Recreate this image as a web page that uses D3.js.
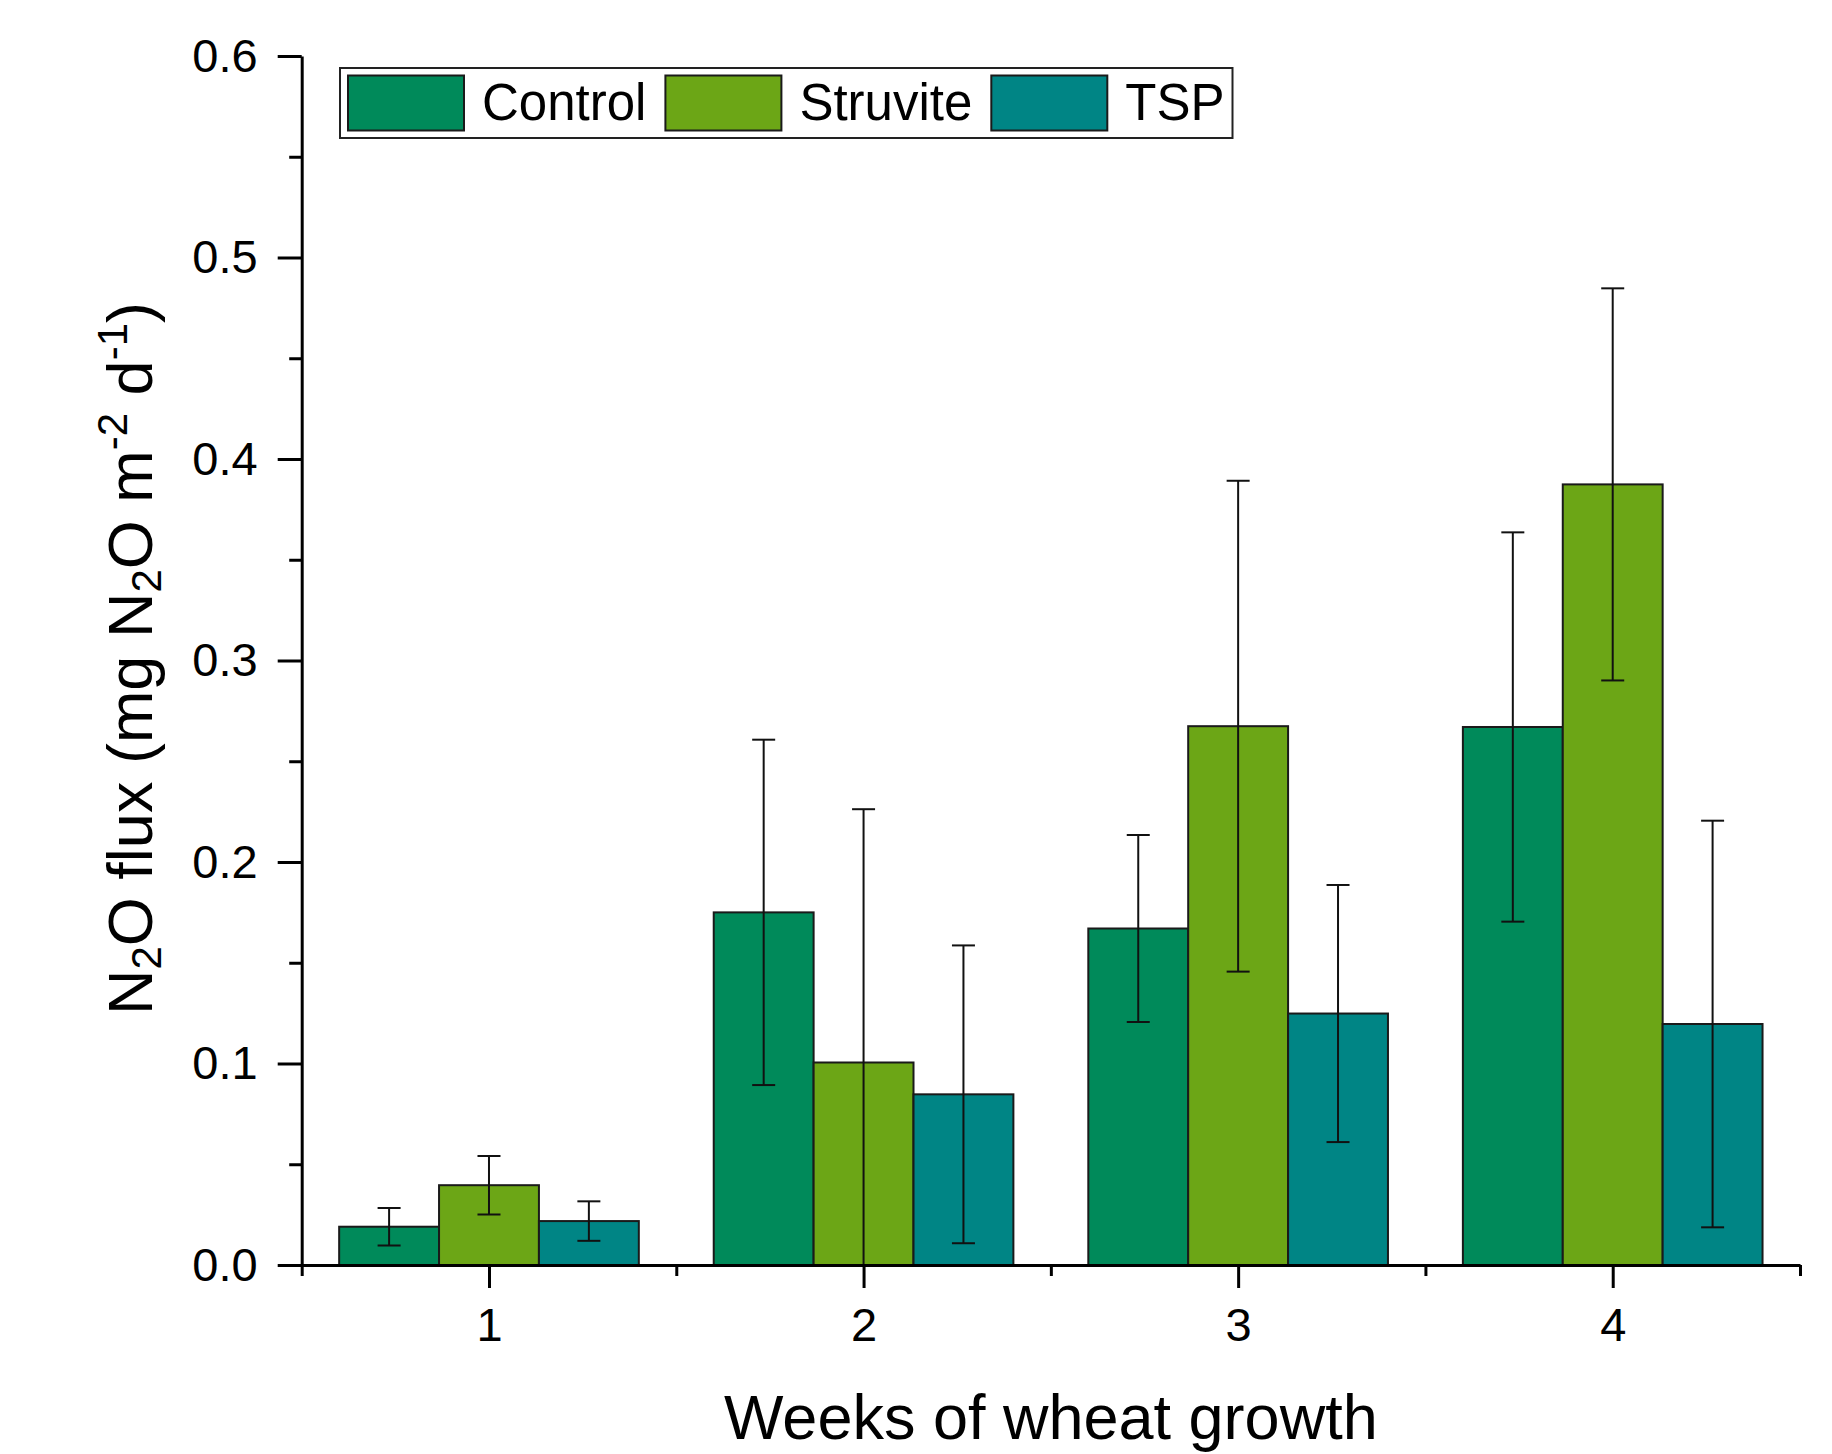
<!DOCTYPE html>
<html>
<head>
<meta charset="utf-8">
<script src="https://cdn.jsdelivr.net/npm/d3@7"></script>
<style>
  html, body { margin: 0; padding: 0; background: #ffffff; }
  svg { display: block; }
  text { font-family: "Liberation Sans", Arial, sans-serif; fill: #000; }
</style>
</head>
<body>
<svg id="chart" width="1832" height="1454"></svg>
<script>
// ---------- data ----------
const weeks = [1, 2, 3, 4];
const seriesNames = ["Control", "Struvite", "TSP"];
const seriesColors = ["#008A5A", "#6CA616", "#008585"];
const controlMean = [0.019, 0.175, 0.167, 0.267];
const controlErr  = [0.0093, 0.0857, 0.0464, 0.0966];
const struviteMean = [0.0396, 0.1005, 0.2674, 0.3874];
const struviteErr  = [0.0145, 0.1257, 0.1218, 0.0973];
const tspMean = [0.0218, 0.0847, 0.1248, 0.1196];
const tspErr  = [0.0098, 0.0739, 0.0638, 0.1009];
const yTicks = [0, 0.1, 0.2, 0.3, 0.4, 0.5, 0.6];
const yMinorTicks = [0.05, 0.15, 0.25, 0.35, 0.45, 0.55];
const xMinorTicks = [0.5, 1.5, 2.5, 3.5, 4.5];
const xTitle = "Weeks of wheat growth";

(function () {
const means = [controlMean, struviteMean, tspMean];
const errs = [controlErr, struviteErr, tspErr];

// ---------- layout ----------
const svg = d3.select("#chart");
const pLeft = 301.7, pRight = 1800, pTop = 56, pBottom = 1265;
const x = d3.scaleLinear().domain([0.5, 4.5]).range([pLeft, pRight]);
const y = d3.scaleLinear().domain([0, 0.6]).range([pBottom, pTop]);
const groupW = 0.8, barW = groupW / seriesNames.length;

const rows = [];
seriesNames.forEach((name, si) => {
  weeks.forEach((w, wi) => {
    rows.push({ name, si, week: w, mean: means[si][wi], err: errs[si][wi] });
  });
});

// clip for plot area
svg.append("defs").append("clipPath").attr("id", "plotClip")
  .append("rect").attr("x", pLeft).attr("y", 0).attr("width", pRight - pLeft).attr("height", pBottom);

const plot = svg.append("g").attr("clip-path", "url(#plotClip)");
const bx = d => x(d.week - groupW / 2 + d.si * barW);
const bc = d => x(d.week - groupW / 2 + (d.si + 0.5) * barW);

// bars
plot.selectAll("rect.bar").data(rows).enter().append("rect")
  .attr("class", "bar")
  .attr("x", bx)
  .attr("width", d => x(d.week - groupW / 2 + (d.si + 1) * barW) - bx(d))
  .attr("y", d => y(d.mean))
  .attr("height", d => y(0) - y(d.mean))
  .attr("fill", d => seriesColors[d.si])
  .attr("stroke", "#1a1a1a")
  .attr("stroke-width", 2);

// error bars
const capHalf = 11.5;
const eb = plot.selectAll("g.err").data(rows).enter().append("g").attr("class", "err");
eb.append("line")
  .attr("x1", bc).attr("x2", bc)
  .attr("y1", d => y(d.mean + d.err))
  .attr("y2", d => y(d.mean - d.err))
  .attr("stroke", "#111").attr("stroke-width", 2);
eb.append("line")
  .attr("x1", d => bc(d) - capHalf).attr("x2", d => bc(d) + capHalf)
  .attr("y1", d => y(d.mean + d.err)).attr("y2", d => y(d.mean + d.err))
  .attr("stroke", "#111").attr("stroke-width", 2);
eb.filter(d => d.mean - d.err > 0).append("line")
  .attr("x1", d => bc(d) - capHalf).attr("x2", d => bc(d) + capHalf)
  .attr("y1", d => y(d.mean - d.err)).attr("y2", d => y(d.mean - d.err))
  .attr("stroke", "#111").attr("stroke-width", 2);

// ---------- axes ----------
const tickFont = 47;
const ff = "'Liberation Sans', Arial, sans-serif";
svg.append("g").attr("transform", `translate(${pLeft},0)`)
  .call(d3.axisLeft(y).tickValues(yMinorTicks).tickSize(12.5).tickFormat(""))
  .call(g => g.select(".domain").remove())
  .call(g => g.selectAll("line").attr("stroke", "#000").attr("stroke-width", 3));
svg.append("g").attr("transform", `translate(${pLeft},0)`)
  .call(d3.axisLeft(y).tickValues(yTicks).tickSize(24).tickSizeOuter(0).tickPadding(20).tickFormat(d3.format(".1f")))
  .call(g => g.select(".domain").attr("stroke", "#000").attr("stroke-width", 3))
  .call(g => g.selectAll("line").attr("stroke", "#000").attr("stroke-width", 3))
  .call(g => g.selectAll("text").attr("font-size", tickFont).attr("font-family", ff).attr("fill", "#000"));
svg.append("g").attr("transform", `translate(0,${pBottom})`)
  .call(d3.axisBottom(x).tickValues(xMinorTicks).tickSize(11).tickFormat(""))
  .call(g => g.select(".domain").remove())
  .call(g => g.selectAll("line").attr("stroke", "#000").attr("stroke-width", 3));
svg.append("g").attr("transform", `translate(0,${pBottom})`)
  .call(d3.axisBottom(x).tickValues(weeks).tickSize(23).tickSizeOuter(0).tickPadding(20).tickFormat(d3.format("d")))
  .call(g => g.select(".domain").attr("stroke", "#000").attr("stroke-width", 3))
  .call(g => g.selectAll("line").attr("stroke", "#000").attr("stroke-width", 3))
  .call(g => g.selectAll("text").attr("font-size", tickFont).attr("font-family", ff).attr("fill", "#000"));

// ---------- titles ----------
svg.append("text")
  .attr("x", (pLeft + pRight) / 2).attr("y", 1439)
  .attr("text-anchor", "middle").attr("font-size", 63)
  .text(xTitle);

const yt = svg.append("text")
  .attr("transform", `translate(152,${(pTop + pBottom) / 2 - 2}) rotate(-90)`)
  .attr("text-anchor", "middle").attr("font-size", 63);
const parts = [
  ["N", 0], ["2", -1], ["O flux (mg N", 0], ["2", -1], ["O m", 0], ["-2", 1], [" d", 0], ["-1", 1], [")", 0]
];
parts.forEach(([t, s]) => {
  const ts = yt.append("tspan").text(t);
  if (s === -1) ts.attr("font-size", 42).attr("baseline-shift", "-22%");
  if (s === 1) ts.attr("font-size", 42).attr("baseline-shift", "60%");
});

// ---------- legend ----------
const lg = svg.append("g");
const lgX = 340, lgY = 68, lgH = 70;
const swW = 116, swH = 55, padL = 8, gapT = 18, gapN = 19;
const legendFont = 51;
let cx = lgX + padL;
seriesNames.forEach((name, i) => {
  lg.append("rect").attr("x", cx).attr("y", lgY + 7.5).attr("width", swW).attr("height", swH)
    .attr("fill", seriesColors[i]).attr("stroke", "#1a1a1a").attr("stroke-width", 2);
  cx += swW + gapT;
  const t = lg.append("text").attr("x", cx).attr("y", lgY + 52).attr("font-size", legendFont).text(name);
  cx += t.node().getComputedTextLength() + (i < seriesNames.length - 1 ? gapN : 8);
});
lg.insert("rect", ":first-child").attr("x", lgX).attr("y", lgY).attr("width", cx - lgX).attr("height", lgH)
  .attr("fill", "#fff").attr("stroke", "#222").attr("stroke-width", 2);
})();
</script>
</body>
</html>
